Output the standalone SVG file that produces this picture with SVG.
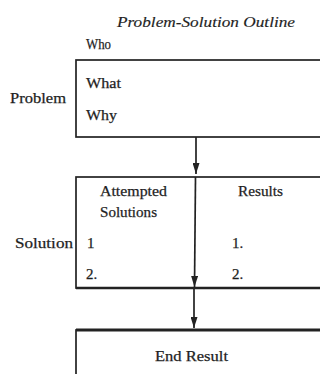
<svg xmlns="http://www.w3.org/2000/svg" width="320" height="374" viewBox="0 0 320 374">
<style>
text{font-family:"Liberation Serif","DejaVu Serif",serif;fill:#1e1e1e;font-size:15px;stroke:#1e1e1e;stroke-width:0.25}
.it{font-style:italic;stroke-width:0.15}
.box{fill:none;stroke:#222;stroke-width:1.7}
.con{stroke:#222;stroke-width:1.7;fill:none}
</style>
<defs>
<marker id="ah" viewBox="0 0 10 10" refX="10" refY="5" markerWidth="11" markerHeight="7" markerUnits="userSpaceOnUse" orient="auto" preserveAspectRatio="none">
<path d="M0,0 L10,5 L0,10 z" fill="#222"/>
</marker>
</defs>
<rect width="320" height="374" fill="#fff"/>
<g id="title"><text x="117" y="27" class="it" textLength="178" lengthAdjust="spacingAndGlyphs">Problem-Solution Outline</text></g>
<g id="problem">
<text x="86" y="49" textLength="25" lengthAdjust="spacingAndGlyphs">Who</text>
<rect class="box" x="76" y="60" width="260" height="77"/>
<text x="10" y="103" textLength="56" lengthAdjust="spacingAndGlyphs">Problem</text>
<text x="86" y="88" textLength="35" lengthAdjust="spacingAndGlyphs">What</text>
<text x="86" y="120" textLength="31" lengthAdjust="spacingAndGlyphs">Why</text>
</g>
<g id="solution">
<rect class="box" x="76" y="177" width="260" height="111"/>
<line x1="76" y1="288" x2="336" y2="288" stroke="#222" stroke-width="2.4"/>
<text x="15" y="248" textLength="58" lengthAdjust="spacingAndGlyphs">Solution</text>
<text x="100" y="196" textLength="67" lengthAdjust="spacingAndGlyphs">Attempted</text>
<text x="100" y="217" textLength="57" lengthAdjust="spacingAndGlyphs">Solutions</text>
<text x="238" y="196" textLength="45" lengthAdjust="spacingAndGlyphs">Results</text>
<text x="87" y="248">1</text>
<text x="86" y="279">2.</text>
<text x="232" y="248">1.</text>
<text x="232" y="279">2.</text>
</g>
<g id="endresult">
<rect class="box" x="76" y="330" width="260" height="60"/>
<line x1="76" y1="330" x2="336" y2="330" stroke="#222" stroke-width="3"/>
<text x="155" y="361" textLength="73" lengthAdjust="spacingAndGlyphs">End Result</text>
</g>
<g id="connectors">
<line class="con" x1="196" y1="137" x2="196" y2="174" marker-end="url(#ah)"/>
<line class="con" x1="195.5" y1="177" x2="194.5" y2="287" marker-end="url(#ah)"/>
<line class="con" x1="194" y1="289" x2="194" y2="328" marker-end="url(#ah)"/>
</g>
</svg>
